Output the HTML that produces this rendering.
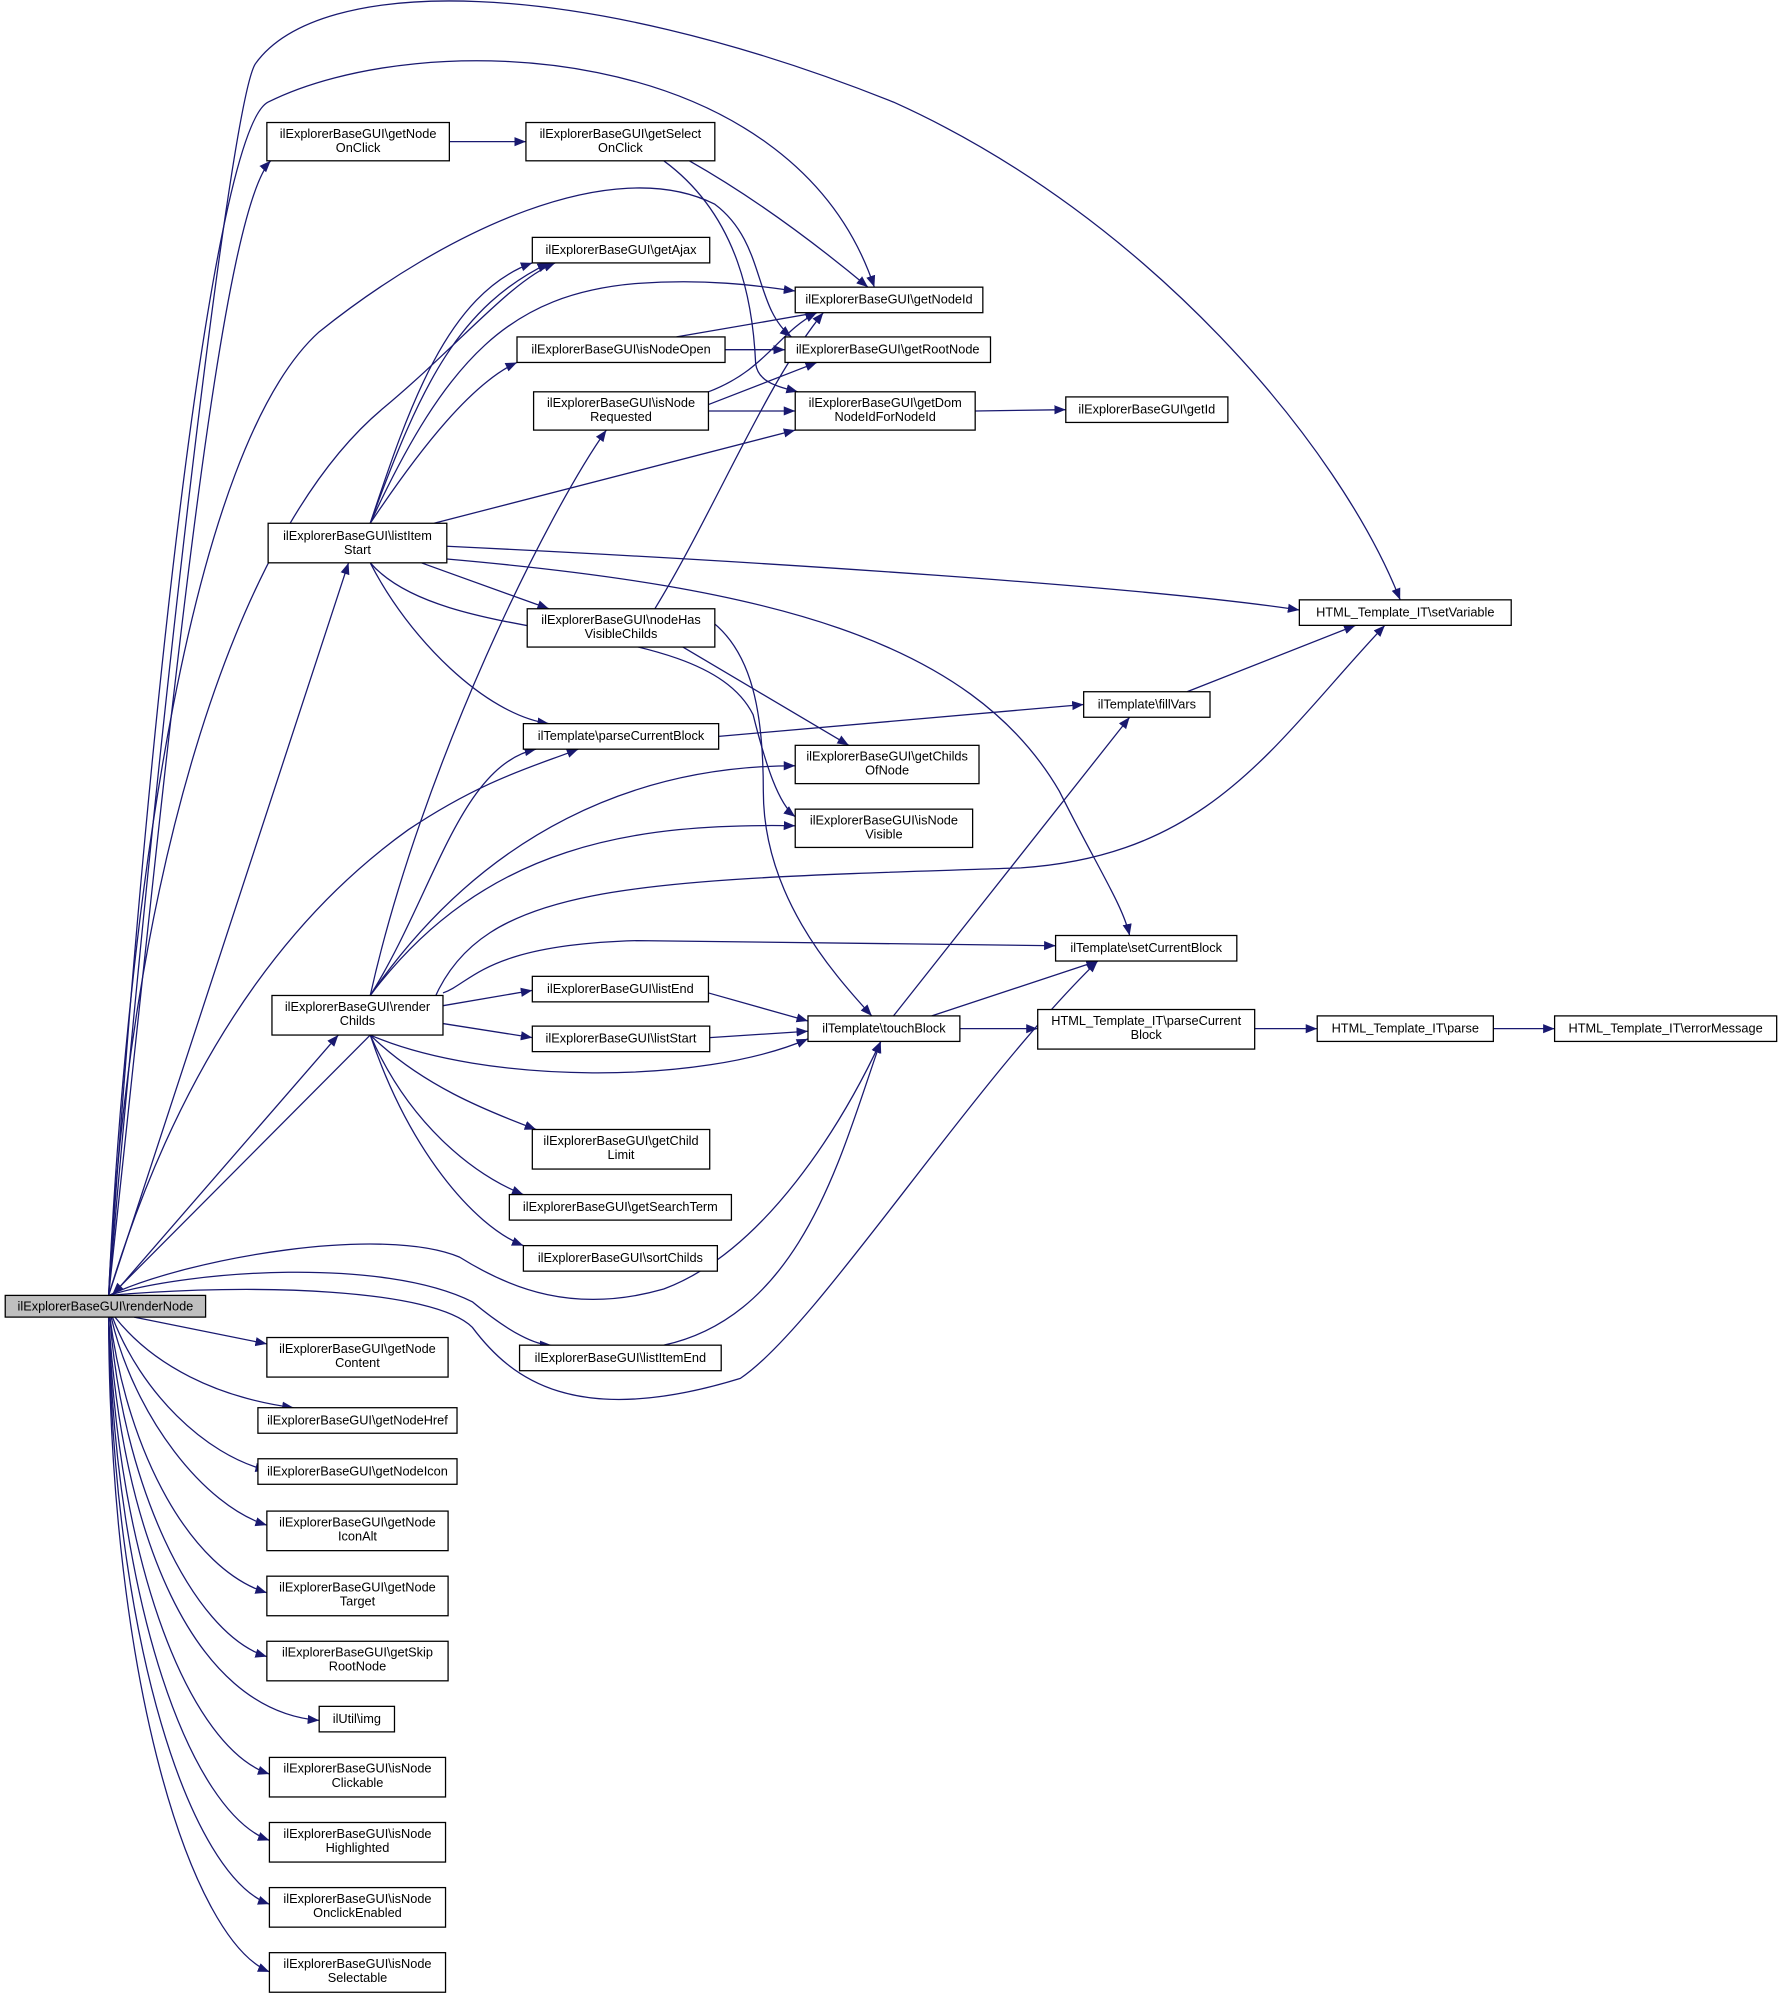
<!DOCTYPE html>
<html><head><meta charset="utf-8"><style>
html,body{margin:0;padding:0;background:#fff;}
svg{display:block;}
text{font-family:"Liberation Sans",sans-serif;font-size:10px;fill:#000;}
.b{fill:#fff;stroke:#000;stroke-width:1;}
.e{fill:none;stroke:#191970;stroke-width:1;marker-end:url(#a);}
</style></head><body>
<svg width="1787" height="2005" viewBox="0 0 1400 1571" xmlns="http://www.w3.org/2000/svg">
<defs><marker id="a" viewBox="0 0 10 10" refX="10" refY="5" markerWidth="9" markerHeight="9" markerUnits="userSpaceOnUse" orient="auto"><path d="M0,1 L10,5 L0,9 z" fill="#191970"/></marker></defs>
<g>
<!-- edges from renderNode -->
<path class="e" d="M85,1015 C120,600 180,80 200,50 C250,-20 450,-20 700,80 C900,170 1050,350 1097,470"/>
<path class="e" d="M85,1015 C120,500 170,100 210,80 C330,20 620,30 685,225"/>
<path class="e" d="M85,1015 C130,600 170,170 212,126"/>
<path class="e" d="M85,1015 C100,700 150,350 250,260 C350,180 480,120 560,160 C600,190 590,240 620,264"/>
<path class="e" d="M85,1015 C100,700 180,420 300,320 C360,270 400,220 435,206"/>
<path class="e" d="M85,1015 L273,441"/>
<path class="e" d="M88,1015 L265,811"/>
<path class="e" d="M290,811 L88,1014"/>
<path class="e" d="M85,1015 C150,800 250,700 320,650 C380,610 420,600 453,587"/>
<path class="e" d="M85,1015 C150,985 300,960 360,985 C400,1010 450,1030 520,1010 C600,980 660,880 690,816"/>
<path class="e" d="M85,1015 C150,995 300,985 370,1020 C400,1045 420,1054 432,1054"/>
<path class="e" d="M85,1015 C200,1005 340,1010 370,1040 C400,1080 450,1120 580,1080 C640,1040 760,850 860,753"/>
<path class="e" d="M105,1032 L209,1053"/>
<path class="e" d="M90,1032 C120,1070 170,1095 230,1103"/>
<path class="e" d="M88,1032 C110,1090 160,1140 209,1152"/>
<path class="e" d="M87,1032 C105,1110 160,1180 209,1195"/>
<path class="e" d="M86,1032 C100,1140 150,1230 209,1248"/>
<path class="e" d="M86,1032 C95,1160 150,1280 209,1298"/>
<path class="e" d="M85,1032 C95,1200 150,1340 250,1348"/>
<path class="e" d="M85,1032 C92,1230 150,1370 211,1390"/>
<path class="e" d="M85,1032 C90,1260 150,1420 211,1442"/>
<path class="e" d="M85,1032 C88,1290 150,1470 211,1492"/>
<path class="e" d="M85,1032 C86,1320 150,1520 211,1545"/>
<!-- other edges -->
<path class="e" d="M352,111 L412,111"/>
<path class="e" d="M540,126 C600,160 650,200 680,225"/>
<path class="e" d="M520,126 C580,170 590,240 592,285 C594,300 610,303 625,307"/>
<path class="e" d="M290,410 C320,320 350,230 417,206"/>
<path class="e" d="M290,410 C330,300 360,240 430,206"/>
<path class="e" d="M290,410 C350,280 400,230 500,222 C560,218 600,225 623,228"/>
<path class="e" d="M290,410 C330,350 370,300 405,284"/>
<path class="e" d="M340,410 L623,337"/>
<path class="e" d="M350,428 C600,440 900,460 1018,478"/>
<path class="e" d="M330,441 L430,477"/>
<path class="e" d="M290,441 C320,500 380,560 430,567"/>
<path class="e" d="M290,441 C350,510 550,480 590,560 C600,600 610,630 623,640"/>
<path class="e" d="M350,438 C600,460 760,500 830,620 C860,680 880,710 885,733"/>
<path class="e" d="M530,264 L640,245"/>
<path class="e" d="M568,274 L615,274"/>
<path class="e" d="M555,307 C600,290 610,260 640,245"/>
<path class="e" d="M555,317 L640,284"/>
<path class="e" d="M555,322 L623,322"/>
<path class="e" d="M764,322 L835,321"/>
<path class="e" d="M513,477 C560,400 600,300 645,245"/>
<path class="e" d="M535,507 L665,584"/>
<path class="e" d="M555,485 C590,510 598,560 598,620 C598,700 650,760 683,796"/>
<path class="e" d="M563,577 L849,552"/>
<path class="e" d="M930,542 L1062,490"/>
<path class="e" d="M290,780 C330,600 430,400 475,337"/>
<path class="e" d="M290,780 C340,700 360,600 420,587"/>
<path class="e" d="M290,780 C380,650 500,600 623,600"/>
<path class="e" d="M290,780 C380,660 500,645 623,647"/>
<path class="e" d="M340,783 C380,690 500,690 800,680 C950,670 1000,580 1085,490"/>
<path class="e" d="M347,778 C370,770 380,740 500,737 L827,741"/>
<path class="e" d="M347,788 L417,776"/>
<path class="e" d="M347,802 L417,813"/>
<path class="e" d="M290,811 C380,850 550,850 633,814"/>
<path class="e" d="M290,811 C330,850 380,870 420,885"/>
<path class="e" d="M290,811 C320,880 370,920 410,936"/>
<path class="e" d="M290,811 C320,900 370,960 410,976"/>
<path class="e" d="M555,778 L633,800"/>
<path class="e" d="M556,813 L633,808"/>
<path class="e" d="M700,796 L885,562"/>
<path class="e" d="M730,796 L860,753"/>
<path class="e" d="M752,806 L813,806"/>
<path class="e" d="M983,806 L1032,806"/>
<path class="e" d="M1170,806 L1218,806"/>
<path class="e" d="M520,1054 C630,1030 660,900 690,816"/>
</g>
<g>
<rect x="4" y="1015" width="157" height="17" fill="#bfbfbf" stroke="#000"/><text x="82.5" y="1027" text-anchor="middle">ilExplorerBaseGUI\renderNode</text>
<rect class="b" x="209" y="96" width="143" height="30"/><text x="280.5" y="108" text-anchor="middle">ilExplorerBaseGUI\getNode</text><text x="280.5" y="119" text-anchor="middle">OnClick</text>
<rect class="b" x="412" y="96" width="148" height="30"/><text x="486" y="108" text-anchor="middle">ilExplorerBaseGUI\getSelect</text><text x="486" y="119" text-anchor="middle">OnClick</text>
<rect class="b" x="417" y="186" width="139" height="20"/><text x="486.5" y="199" text-anchor="middle">ilExplorerBaseGUI\getAjax</text>
<rect class="b" x="623" y="225" width="147" height="20"/><text x="696.5" y="238" text-anchor="middle">ilExplorerBaseGUI\getNodeId</text>
<rect class="b" x="405" y="264" width="163" height="20"/><text x="486.5" y="277" text-anchor="middle">ilExplorerBaseGUI\isNodeOpen</text>
<rect class="b" x="615" y="264" width="161" height="20"/><text x="695.5" y="277" text-anchor="middle">ilExplorerBaseGUI\getRootNode</text>
<rect class="b" x="418" y="307" width="137" height="30"/><text x="486.5" y="319" text-anchor="middle">ilExplorerBaseGUI\isNode</text><text x="486.5" y="330" text-anchor="middle">Requested</text>
<rect class="b" x="623" y="307" width="141" height="30"/><text x="693.5" y="319" text-anchor="middle">ilExplorerBaseGUI\getDom</text><text x="693.5" y="330" text-anchor="middle">NodeIdForNodeId</text>
<rect class="b" x="835" y="311" width="127" height="20"/><text x="898.5" y="324" text-anchor="middle">ilExplorerBaseGUI\getId</text>
<rect class="b" x="210" y="410" width="140" height="31"/><text x="280" y="423" text-anchor="middle">ilExplorerBaseGUI\listItem</text><text x="280" y="434" text-anchor="middle">Start</text>
<rect class="b" x="413" y="477" width="147" height="30"/><text x="486.5" y="489" text-anchor="middle">ilExplorerBaseGUI\nodeHas</text><text x="486.5" y="500" text-anchor="middle">VisibleChilds</text>
<rect class="b" x="1018" y="470" width="166" height="20"/><text x="1101" y="483" text-anchor="middle">HTML_Template_IT\setVariable</text>
<rect class="b" x="849" y="542" width="99" height="20"/><text x="898.5" y="555" text-anchor="middle">ilTemplate\fillVars</text>
<rect class="b" x="410" y="567" width="153" height="20"/><text x="486.5" y="580" text-anchor="middle">ilTemplate\parseCurrentBlock</text>
<rect class="b" x="623" y="584" width="144" height="30"/><text x="695" y="596" text-anchor="middle">ilExplorerBaseGUI\getChilds</text><text x="695" y="607" text-anchor="middle">OfNode</text>
<rect class="b" x="623" y="634" width="139" height="30"/><text x="692.5" y="646" text-anchor="middle">ilExplorerBaseGUI\isNode</text><text x="692.5" y="657" text-anchor="middle">Visible</text>
<rect class="b" x="827" y="733" width="142" height="20"/><text x="898" y="746" text-anchor="middle">ilTemplate\setCurrentBlock</text>
<rect class="b" x="213" y="780" width="134" height="31"/><text x="280" y="792" text-anchor="middle">ilExplorerBaseGUI\render</text><text x="280" y="803" text-anchor="middle">Childs</text>
<rect class="b" x="417" y="765" width="138" height="20"/><text x="486" y="778" text-anchor="middle">ilExplorerBaseGUI\listEnd</text>
<rect class="b" x="633" y="796" width="119" height="20"/><text x="692.5" y="809" text-anchor="middle">ilTemplate\touchBlock</text>
<rect class="b" x="417" y="804" width="139" height="20"/><text x="486.5" y="817" text-anchor="middle">ilExplorerBaseGUI\listStart</text>
<rect class="b" x="813" y="791" width="170" height="31"/><text x="898" y="803" text-anchor="middle">HTML_Template_IT\parseCurrent</text><text x="898" y="814" text-anchor="middle">Block</text>
<rect class="b" x="1032" y="796" width="138" height="20"/><text x="1101" y="809" text-anchor="middle">HTML_Template_IT\parse</text>
<rect class="b" x="1218" y="796" width="174" height="20"/><text x="1305" y="809" text-anchor="middle">HTML_Template_IT\errorMessage</text>
<rect class="b" x="417" y="885" width="139" height="31"/><text x="486.5" y="897" text-anchor="middle">ilExplorerBaseGUI\getChild</text><text x="486.5" y="908" text-anchor="middle">Limit</text>
<rect class="b" x="399" y="936" width="174" height="20"/><text x="486" y="949" text-anchor="middle">ilExplorerBaseGUI\getSearchTerm</text>
<rect class="b" x="410" y="976" width="152" height="20"/><text x="486" y="989" text-anchor="middle">ilExplorerBaseGUI\sortChilds</text>
<rect class="b" x="407" y="1054" width="158" height="20"/><text x="486" y="1067" text-anchor="middle">ilExplorerBaseGUI\listItemEnd</text>
<rect class="b" x="209" y="1048" width="142" height="31"/><text x="280" y="1060" text-anchor="middle">ilExplorerBaseGUI\getNode</text><text x="280" y="1071" text-anchor="middle">Content</text>
<rect class="b" x="202" y="1103" width="156" height="20"/><text x="280" y="1116" text-anchor="middle">ilExplorerBaseGUI\getNodeHref</text>
<rect class="b" x="202" y="1143" width="156" height="20"/><text x="280" y="1156" text-anchor="middle">ilExplorerBaseGUI\getNodeIcon</text>
<rect class="b" x="209" y="1184" width="142" height="31"/><text x="280" y="1196" text-anchor="middle">ilExplorerBaseGUI\getNode</text><text x="280" y="1207" text-anchor="middle">IconAlt</text>
<rect class="b" x="209" y="1235" width="142" height="31"/><text x="280" y="1247" text-anchor="middle">ilExplorerBaseGUI\getNode</text><text x="280" y="1258" text-anchor="middle">Target</text>
<rect class="b" x="209" y="1286" width="142" height="31"/><text x="280" y="1298" text-anchor="middle">ilExplorerBaseGUI\getSkip</text><text x="280" y="1309" text-anchor="middle">RootNode</text>
<rect class="b" x="250" y="1337" width="59" height="20"/><text x="279.5" y="1350" text-anchor="middle">ilUtil\img</text>
<rect class="b" x="211" y="1377" width="138" height="31"/><text x="280" y="1389" text-anchor="middle">ilExplorerBaseGUI\isNode</text><text x="280" y="1400" text-anchor="middle">Clickable</text>
<rect class="b" x="211" y="1428" width="138" height="31"/><text x="280" y="1440" text-anchor="middle">ilExplorerBaseGUI\isNode</text><text x="280" y="1451" text-anchor="middle">Highlighted</text>
<rect class="b" x="211" y="1479" width="138" height="31"/><text x="280" y="1491" text-anchor="middle">ilExplorerBaseGUI\isNode</text><text x="280" y="1502" text-anchor="middle">OnclickEnabled</text>
<rect class="b" x="211" y="1530" width="138" height="31"/><text x="280" y="1542" text-anchor="middle">ilExplorerBaseGUI\isNode</text><text x="280" y="1553" text-anchor="middle">Selectable</text>
</g>
</svg>
</body></html>
